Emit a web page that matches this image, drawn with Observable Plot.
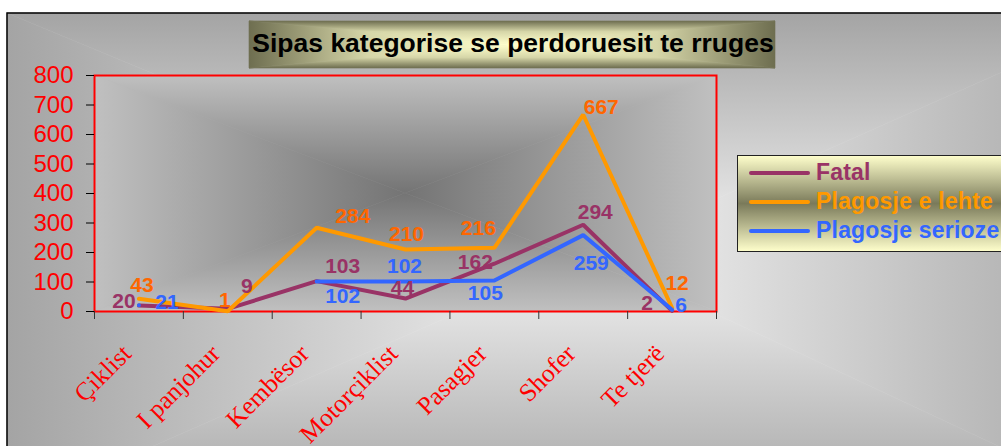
<!DOCTYPE html>
<html><head><meta charset="utf-8">
<script src="https://cdn.jsdelivr.net/npm/d3@7"></script>
<script src="https://cdn.jsdelivr.net/npm/@observablehq/plot@0.6"></script>
<style>
html,body{margin:0;padding:0;background:#fff;overflow:hidden;}
#chart{position:relative;width:1001px;height:446px;overflow:hidden;}
#chart > svg{position:absolute;left:0;top:0;}
</style></head><body><div id="chart"></div>
<script>
// ---- data ----
const title = "Sipas kategorise se perdoruesit te rruges";
const categories = ["Çiklist", "I panjohur", "Kembësor", "Motorçiklist", "Pasagjer", "Shofer", "Te tjerë"];
const seriesNames = ["Fatal", "Plagosje e lehte", "Plagosje serioze"];
const fatal   = [20, 9, 103, 44, 162, 294, 2];
const lehte   = [43, 1, 284, 210, 216, 667, 12];
const serioze = [21, null, 102, 102, 105, 259, 6];
const yTicks  = [0, 100, 200, 300, 400, 500, 600, 700, 800];

// ---- styles ----
const lineColors  = ["#993366", "#FF9900", "#3366FF"];
const labelColors = ["#993366", "#FF6600", "#3366FF"];
// label offsets (px) relative to each point, as placed in the original chart
const labelOffsets = [
  [[-15,-4],[19,-23],[26,-15],[-3,-10],[-19,-1],[12,-13],[-25,-8]],
  [[3,-14],[-3,-11],[36,-11],[1,-15],[-16,-20],[18,-7],[5,-25]],
  [[28,-3],[0,0],[26,15],[-1,-15],[-9,13],[8,28],[9,-4]]
];
const SANS = "'Liberation Sans', Arial, sans-serif";
const SERIF = "'Liberation Serif', 'Times New Roman', serif";

const W = 1001, H = 446;
const values = [fatal, lehte, serioze];
const rows = [];
values.forEach((vals, s) => vals.forEach((v, i) => rows.push({series: seriesNames[s], s, i, cat: categories[i], value: v})));

function rectGradient(sel, id, x0, y0, x1, y1, cx, cy, stops) {
  const defs = sel.append("defs");
  const parts = [
    {pts: [[x0,y0],[x1,y0],[cx,cy]], from: [cx,y0], to: [cx,cy]},
    {pts: [[x1,y0],[x1,y1],[cx,cy]], from: [x1,cy], to: [cx,cy]},
    {pts: [[x1,y1],[x0,y1],[cx,cy]], from: [cx,y1], to: [cx,cy]},
    {pts: [[x0,y1],[x0,y0],[cx,cy]], from: [x0,cy], to: [cx,cy]}
  ];
  parts.forEach((p, k) => {
    const g = defs.append("linearGradient").attr("id", id + k).attr("gradientUnits", "userSpaceOnUse")
      .attr("x1", p.from[0]).attr("y1", p.from[1]).attr("x2", p.to[0]).attr("y2", p.to[1]);
    stops.forEach(([o, c]) => g.append("stop").attr("offset", o).attr("stop-color", c));
    sel.append("polygon").attr("points", p.pts.map(q => q.join(",")).join(" "))
      .attr("fill", `url(#${id + k})`).attr("stroke", `url(#${id + k})`).attr("stroke-width", 0.6);
  });
}

// ---- background, title, legend ----
const chart = d3.select("#chart");
const bg = chart.append("svg").attr("width", W).attr("height", H);
rectGradient(bg.append("g"), "outer", 7, 13, 1135, 510, 590, 255, [[0, "#a4a4a4"], [1, "#f4f4f4"]]);
bg.append("rect").attr("x", 7).attr("y", 13).attr("width", 1200).attr("height", 600)
  .attr("fill", "none").attr("stroke", "#000").attr("stroke-width", 1.5);

// title box
rectGradient(bg.append("g"), "title", 249, 21, 775, 68, 512, 44.5,
  [[0, "#6e6e50"], [0.45, "#d6d6a8"], [1, "#ffffcc"]]);
bg.append("text").attr("x", 513).attr("y", 52).attr("text-anchor", "middle")
  .style("font-family", SANS).style("font-weight", "bold").style("font-size", "26.5px").attr("fill", "#000")
  .text(title);

// legend
const lgDefs = bg.append("defs").append("linearGradient").attr("id", "lg").attr("x1", 0).attr("y1", 0).attr("x2", 0).attr("y2", 1);
lgDefs.append("stop").attr("offset", 0).attr("stop-color", "#ffffcc");
lgDefs.append("stop").attr("offset", 0.5).attr("stop-color", "#7a7a5a");
lgDefs.append("stop").attr("offset", 1).attr("stop-color", "#ffffcc");
bg.append("rect").attr("x", 737.5).attr("y", 155.5).attr("width", 320).attr("height", 96)
  .attr("fill", "url(#lg)").attr("stroke", "#222").attr("stroke-width", 1);
seriesNames.forEach((name, k) => {
  const base = 180 + k * 29;
  bg.append("line").attr("x1", 751).attr("x2", 808).attr("y1", base - 7).attr("y2", base - 7)
    .attr("stroke", lineColors[k]).attr("stroke-width", 4).attr("stroke-linecap", "round");
  bg.append("text").attr("x", 816).attr("y", base)
    .style("font-family", SANS).style("font-weight", "bold").style("font-size", "23px")
    .style("letter-spacing", "0.2px")
    .attr("fill", lineColors[k]).text(name);
});

// ---- plot ----
const labelMarks = rows.filter(d => d.value != null).map(d => Plot.text([d], {
  x: d => d.i + 0.5, y: "value", text: d => String(d.value),
  dx: labelOffsets[d.s][d.i][0], dy: labelOffsets[d.s][d.i][1],
  fill: labelColors[d.s], fontSize: 21, fontWeight: "bold", fontFamily: SANS,
  textAnchor: "middle", lineAnchor: "middle"
}));

const plot = Plot.plot({
  width: W, height: H,
  marginLeft: 94, marginRight: W - 716, marginTop: 75, marginBottom: H - 311,
  style: {background: "transparent", overflow: "visible", fontFamily: SANS},
  x: {type: "linear", domain: [0, categories.length]},
  y: {domain: [0, 800]},
  marks: [
    Plot.frame({stroke: "#ff0000", strokeWidth: 2}),
    Plot.axisY({ticks: yTicks, tickSize: 8, tickPadding: 13, label: null, stroke: "#000", fill: "#ff0000", fontSize: 24, fontFamily: SANS}),
    Plot.axisX({ticks: d3.range(categories.length + 1), tickSize: 8, tickFormat: () => "", label: null, stroke: "#333"}),
    Plot.text(categories, {x: (d, i) => i + 0.5, frameAnchor: "bottom", text: d => d, rotate: -45,
      textAnchor: "end", lineAnchor: "middle", dx: -12, dy: 38, fill: "#ff0000", fontSize: 25.5, fontFamily: SERIF}),
    ...seriesNames.map((name, s) => Plot.line(rows.filter(d => d.s === s), {
      x: d => d.i + 0.5, y: "value", stroke: lineColors[s], strokeWidth: 4, strokeLinejoin: "miter"
    })),
    ...labelMarks
  ]
});

// plot-area gradient (rectangular, from centre) behind the marks
const sx = plot.scale("x"), sy = plot.scale("y");
const px0 = sx.apply(0), px1 = sx.apply(categories.length), py0 = sy.apply(800), py1 = sy.apply(0);
const pg = d3.select(plot).insert("g", ":first-child");
rectGradient(pg, "plotbg", px0, py0, px1, py1, (px0 + px1) / 2, (py0 + py1) / 2, [[0, "#c0c0c0"], [1, "#747474"]]);

chart.node().appendChild(plot);
</script></body></html>
